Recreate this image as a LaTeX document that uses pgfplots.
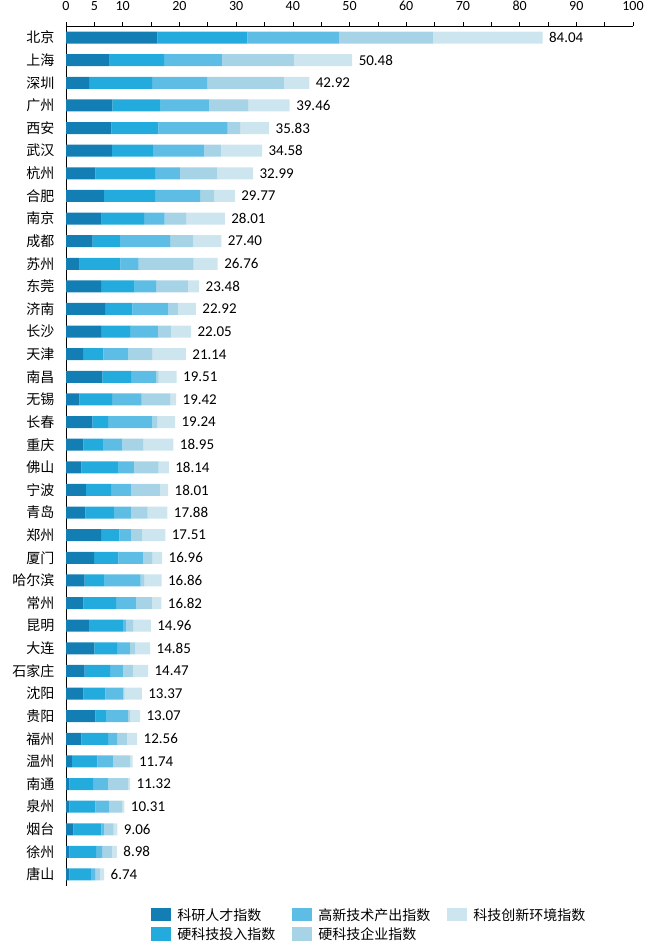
\documentclass[border=0pt]{standalone}
\usepackage{pgfplots}
\usepackage{pgfplotstable}
\pgfplotsset{compat=1.18}
\usepackage{fontspec}
\setmainfont{Carlito}
\newfontfamily\cjk{Noto Sans CJK SC}
\definecolor{cA}{HTML}{137EB4}
\definecolor{cB}{HTML}{22ABDC}
\definecolor{cC}{HTML}{5EBDE5}
\definecolor{cD}{HTML}{A6D4E6}
\definecolor{cE}{HTML}{CCE5EF}
\pgfplotstableread[col sep=comma]{
idx,name,a,b,c,d,e,total
0,北京,16.1,15.9,16.2,16.5,19.34,84.04
1,上海,7.7,9.6,10.2,12.7,10.28,50.48
2,深圳,4.1,11.1,9.7,13.6,4.42,42.92
3,广州,8.2,8.5,8.5,6.9,7.36,39.46
4,西安,8.0,8.3,12.2,2.2,5.13,35.83
5,武汉,8.1,7.2,9.1,2.9,7.28,34.58
6,杭州,5.2,10.5,4.4,6.6,6.29,32.99
7,合肥,6.7,9.0,7.95,2.5,3.62,29.77
8,南京,6.3,7.5,3.6,3.8,6.81,28.01
9,成都,4.7,4.8,8.85,4.1,4.95,27.40
10,苏州,2.4,7.2,3.2,9.7,4.26,26.76
11,东莞,6.2,5.9,3.8,5.6,1.98,23.48
12,济南,6.9,4.8,6.35,1.7,3.17,22.92
13,长沙,6.2,5.1,4.9,2.3,3.55,22.05
14,天津,3.0,3.6,4.4,4.2,5.94,21.14
15,南昌,6.4,5.1,4.35,0.5,3.16,19.51
16,无锡,2.35,5.8,5.2,5.0,1.07,19.42
17,长春,4.65,2.8,7.8,0.8,3.19,19.24
18,重庆,3.05,3.6,3.3,3.65,5.35,18.95
19,佛山,2.7,6.6,2.65,4.4,1.79,18.14
20,宁波,3.5,4.45,3.6,5.0,1.46,18.01
21,青岛,3.4,5.05,3.0,2.95,3.48,17.88
22,郑州,6.2,3.2,2.05,2.0,4.06,17.51
23,厦门,4.95,4.3,4.3,1.65,1.76,16.96
24,哈尔滨,3.3,3.5,6.35,0.65,3.06,16.86
25,常州,3.05,5.8,3.55,2.75,1.67,16.82
26,昆明,4.05,6.0,0.6,1.2,3.11,14.96
27,大连,5.0,4.0,2.25,1.0,2.60,14.85
28,石家庄,3.3,4.5,2.25,1.75,2.67,14.47
29,沈阳,3.05,3.9,3.1,0.3,3.02,13.37
30,贵阳,5.2,1.95,3.75,0.35,1.82,13.07
31,福州,2.7,4.75,1.55,1.75,1.81,12.56
32,温州,1.05,4.5,2.8,3.0,0.39,11.74
33,南通,0.6,4.2,2.6,3.6,0.32,11.32
34,泉州,0.6,4.6,2.35,2.35,0.41,10.31
35,烟台,1.3,4.95,0.5,1.65,0.66,9.06
36,徐州,0.6,4.7,1.05,1.75,0.88,8.98
37,唐山,0.6,3.8,0.75,0.9,0.69,6.74
}\data
\begin{document}
\begin{tikzpicture}
\path[use as bounding box] (0pt,0pt) rectangle (663pt,-945pt);
\begin{axis}[
  at={(66pt,-26pt)}, anchor=north west,
  scale only axis, width=567pt, height=859.7pt,
  xbar stacked, bar width=12pt,
  xmin=0, xmax=100, ymin=-0.51, ymax=37.53,
  y dir=reverse,
  axis x line*=top, axis y line*=left,
  axis line style={black, line width=0.8pt},
  xtick={0,5,...,100},
  xticklabels={0,5,10,,20,,30,,40,,50,,60,,70,,80,,90,,100},
  tick align=outside,
  major tick length=4pt,
  x tick style={black, line width=0.6pt},
  /pgf/number format/assume math mode=true,
  xticklabel style={font=\fontsize{14}{16}\selectfont, yshift=8pt},
  ytick=data,
  yticklabels from table={\data}{name},
  y tick style={draw=none},
  yticklabel style={font=\cjk\fontsize{14}{16}\selectfont, xshift=-4pt},
  every axis plot/.append style={draw=none},
  legend columns=3,
  legend image code/.code={\fill[#1] (0pt,-6pt) rectangle (20pt,7.5pt);},
  legend style={at={(axis description cs:0.145,-0.021)}, anchor=north west,
    draw=none, fill=none, font=\cjk\fontsize{14}{16}\selectfont,
    /tikz/every even column/.append style={column sep=15pt},
    /tikz/every odd column/.append style={column sep=4pt},
    row sep=2pt, legend cell align=left},
]
\addplot[fill=cA, forget plot] table[x=a, y=idx] {\data};
\addplot[fill=cB, forget plot] table[x=b, y=idx] {\data};
\addplot[fill=cC, forget plot] table[x=c, y=idx] {\data};
\addplot[fill=cD, forget plot] table[x=d, y=idx] {\data};
\addplot[fill=cE, forget plot,
  visualization depends on={\thisrow{e} \as \segw},
  point meta=explicit symbolic,
  nodes near coords,
  every node near coord/.append style={font=\fontsize{15}{17}\selectfont, anchor=west, xshift=\segw*2.835pt+3pt, black}
  ] table[x=e, y=idx, meta=total] {\data};
\addlegendimage{fill=cA}\addlegendentry{科研人才指数}
\addlegendimage{fill=cC}\addlegendentry{高新技术产出指数}
\addlegendimage{fill=cE}\addlegendentry{科技创新环境指数}
\addlegendimage{fill=cB}\addlegendentry{硬科技投入指数}
\addlegendimage{fill=cD}\addlegendentry{硬科技企业指数}
\end{axis}
\end{tikzpicture}
\end{document}
